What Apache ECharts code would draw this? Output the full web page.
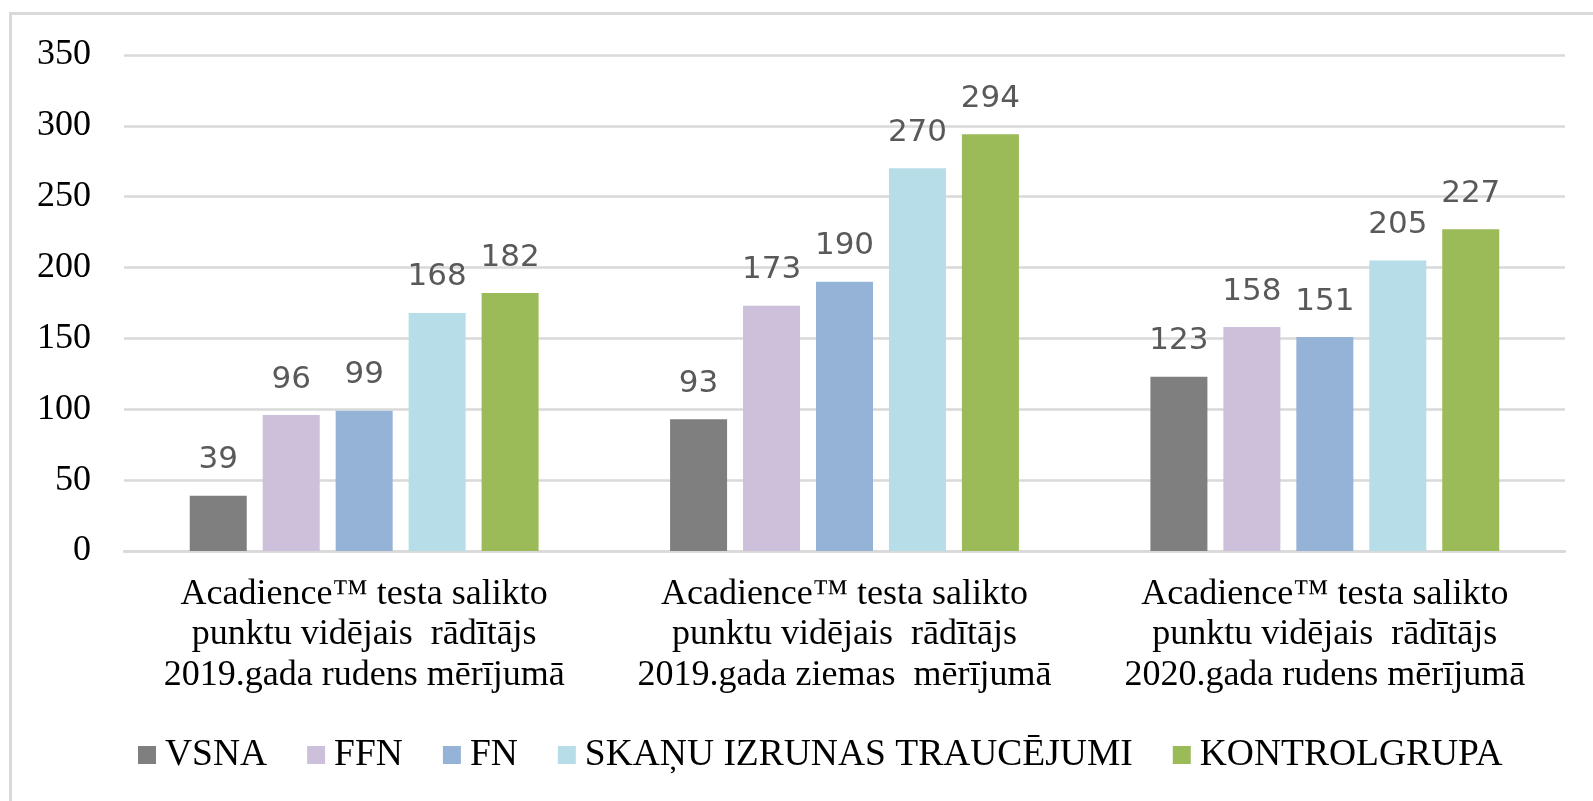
<!DOCTYPE html>
<html>
<head>
<meta charset="utf-8">
<script src="https://cdn.jsdelivr.net/npm/echarts@6/dist/echarts.min.js"></script>
<style>html,body{margin:0;padding:0;background:#fff;}#c{width:1593px;height:801px;}</style>
</head>
<body>
<div id="c"></div>
<script>
const categories = [
  'Acadience™ testa salikto\npunktu vidējais  rādītājs\n2019.gada rudens mērījumā',
  'Acadience™ testa salikto\npunktu vidējais  rādītājs\n2019.gada ziemas  mērījumā',
  'Acadience™ testa salikto\npunktu vidējais  rādītājs\n2020.gada rudens mērījumā'
];
const seriesNames = ['VSNA', 'FFN', 'FN', 'SKAŅU IZRUNAS TRAUCĒJUMI', 'KONTROLGRUPA'];
const vsna = [39, 93, 123];
const ffn = [96, 173, 158];
const fn = [99, 190, 151];
const skanu = [168, 270, 205];
const kontrol = [182, 294, 227];
const colors = ['#7f7f7f', '#ccc0da', '#95b3d7', '#b7dee8', '#9bbb59'];
const yTicks = [0, 50, 100, 150, 200, 250, 300, 350];

const values = [vsna, ffn, fn, skanu, kontrol];
const chart = echarts.init(document.getElementById('c'));
chart.setOption({
  animation: false,
  backgroundColor: '#fff',
  graphic: [{
    type: 'rect', left: 8, top: 11, z: -1,
    shape: { width: 1600, height: 800 },
    style: { fill: 'none', stroke: '#d9d9d9', lineWidth: 3 }
  }],
  grid: { left: 124, right: 28, top: 55, bottom: 250, containLabel: false },
  legend: {
    data: seriesNames,
    left: 133,
    top: 731,
    itemWidth: 18, itemHeight: 18, itemGap: 40,
    icon: 'rect',
    textStyle: { fontFamily: 'Liberation Serif', fontSize: 37.5, color: '#000', padding: [0, 0, 0, 4] }
  },
  xAxis: {
    type: 'category',
    data: categories,
    axisLine: { lineStyle: { color: '#d9d9d9', width: 2.5 } },
    axisTick: { show: false },
    axisLabel: {
      interval: 0, margin: 23,
      fontFamily: 'Liberation Serif', fontSize: 36, lineHeight: 40.5, color: '#000', align: 'center'
    }
  },
  yAxis: {
    type: 'value',
    min: yTicks[0], max: yTicks[yTicks.length - 1], interval: 50,
    axisLine: { show: false },
    axisTick: { show: false },
    splitLine: { lineStyle: { color: '#d9d9d9', width: 2.5 } },
    axisLabel: { margin: 33, fontFamily: 'Liberation Serif', fontSize: 36, color: '#000' }
  },
  series: seriesNames.map((name, i) => ({
    name: name,
    type: 'bar',
    data: values[i],
    barWidth: 57,
    barGap: '28%',
    itemStyle: { color: colors[i] },
    label: {
      show: true, position: 'top', distance: 20,
      fontFamily: 'DejaVu Sans', fontSize: 31, color: '#595959'
    }
  }))
});
</script>
</body>
</html>
